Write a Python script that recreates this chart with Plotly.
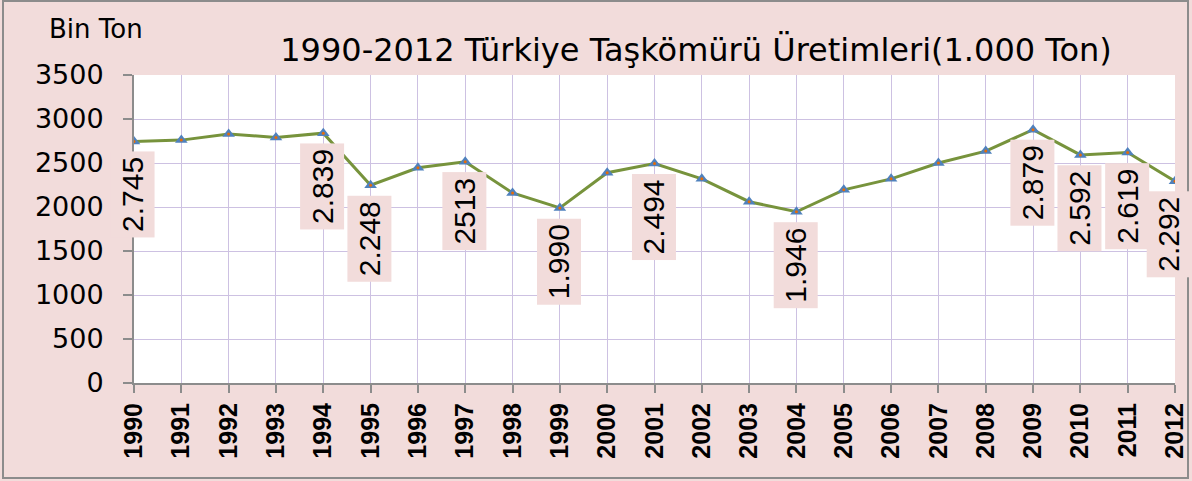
import plotly.graph_objects as go

years = list(range(1990, 2013))
production = [2745, 2760, 2830, 2790, 2839, 2248, 2445, 2513, 2160, 1990, 2390,
              2494, 2320, 2060, 1946, 2195, 2320, 2500, 2635, 2879, 2592, 2619, 2292]
label_years = [1990, 1994, 1995, 1997, 1999, 2001, 2004, 2009, 2010, 2011, 2012]
label_texts = ["2.745", "2.839", "2.248", "2513", "1.990", "2.494", "1.946",
               "2.879", "2.592", "2.619", "2.292"]
y_ticks = [0, 500, 1000, 1500, 2000, 2500, 3000, 3500]

title_text = "1990-2012 Türkiye Taşkömürü Üretimleri(1.000 Ton)"
y_title = "Bin Ton"

PINK = "#f2dcdb"
GRID = "#cdc1e2"
FONT = "Liberation Sans, Arial, sans-serif"
WIDE = "DejaVu Sans, Liberation Sans, sans-serif"

fig = go.Figure()
fig.add_trace(go.Scatter(
    x=years, y=production, mode="lines+markers",
    line=dict(color="#77933c", width=3),
    marker=dict(symbol="triangle-up", size=11, color="#4f81bd"),
    showlegend=False, hoverinfo="x+y"))
fig.add_trace(go.Scatter(
    x=years, y=production, mode="markers",
    marker=dict(symbol="circle", size=3, color="#e46c0a"),
    showlegend=False, hoverinfo="skip"))

val = dict(zip(years, production))
for yr, txt in zip(label_years, label_texts):
    fig.add_annotation(
        x=yr, y=val[yr], xref="x", yref="y", text=txt, showarrow=False,
        textangle=-90, yanchor="top", xanchor="center",
        yshift=-10, xshift=(-6 if yr == 2012 else -1),
        font=dict(family=FONT, size=30, color="black"),
        bgcolor=PINK, borderpad=5)

L, R, T, B = 134, 17, 75, 98
W, H = 1192, 481
pw, ph = W - L - R, H - T - B

fig.add_annotation(
    x=(96 - L) / pw, y=(H - B - 29) / ph, xref="paper", yref="paper",
    text=y_title, showarrow=False, xanchor="center", yanchor="middle",
    font=dict(family=WIDE, size=26, color="black"))

fig.add_shape(type="rect", xref="paper", yref="paper",
              x0=(3 - L) / pw, x1=(1188 - L) / pw,
              y0=(H - B - 478) / ph, y1=(H - B - 1) / ph,
              line=dict(color="#8c8c8c", width=2), fillcolor="rgba(0,0,0,0)",
              layer="below")

fig.update_layout(
    width=W, height=H,
    margin=dict(l=L, r=R, t=T, b=B, autoexpand=False),
    paper_bgcolor=PINK, plot_bgcolor="white",
    font=dict(family=FONT, color="black"),
    title=dict(text=title_text, x=(696 - L) / pw, xref="paper",
               y=1 - 50 / H, yref="container", xanchor="center", yanchor="middle",
               font=dict(family=WIDE, size=32, color="black")),
    xaxis=dict(range=[1990, 2012], tickvals=years,
               ticktext=["<b>%d</b>" % y for y in years], tickangle=-90,
               showgrid=True, gridcolor=GRID, gridwidth=1,
               showline=True, linecolor="#8c8c8c", linewidth=2,
               ticks="outside", ticklen=8, tickcolor="#8c8c8c", tickwidth=2,
               tickfont=dict(family=FONT, size=25, color="black"),
               zeroline=False, fixedrange=True, automargin=False),
    yaxis=dict(range=[0, 3500], tickvals=y_ticks,
               showgrid=True, gridcolor=GRID, gridwidth=1,
               showline=True, linecolor="#8c8c8c", linewidth=2,
               ticks="outside", ticklen=9, tickcolor="#8c8c8c", tickwidth=2,
               ticklabelstandoff=14,
               tickfont=dict(family=WIDE, size=27, color="black"),
               zeroline=False, fixedrange=True, automargin=False),
)

fig.write_html("out.html", post_script="document.body.style.margin='0';",
               config={"displayModeBar": False})
